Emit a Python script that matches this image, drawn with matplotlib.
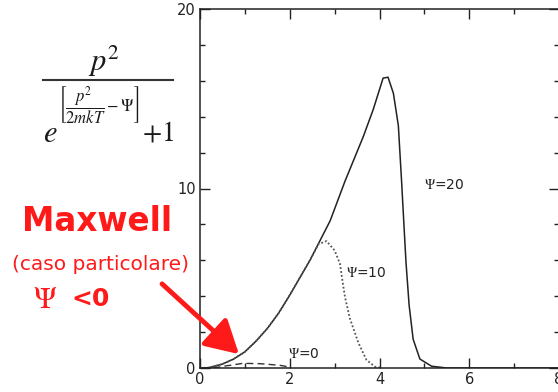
import numpy as np
import matplotlib
matplotlib.use('Agg')
import matplotlib.pyplot as plt
from matplotlib.ticker import MultipleLocator
from matplotlib.lines import Line2D
from matplotlib.patches import FancyArrowPatch

plt.rcParams['mathtext.fontset'] = 'stix'

# curve values (x = p, y = distribution)
psi20_x = [0, 0.2, 0.5, 0.75, 1.0, 1.25, 1.5, 1.75, 2.0, 2.45, 2.9, 3.23, 3.64, 3.86, 4.08, 4.19, 4.31, 4.42, 4.49, 4.53, 4.59, 4.66, 4.75, 4.9, 5.16, 5.5, 8.0]
psi20_y = [0, 0.02, 0.22, 0.5, 0.9, 1.5, 2.2, 3.05, 4.06, 6.0, 8.2, 10.4, 12.9, 14.4, 16.15, 16.2, 15.3, 13.5, 10.5, 8.65, 5.9, 3.5, 1.6, 0.5, 0.1, 0.0, 0.0]

psi10_x = [0, 0.2, 0.5, 0.75, 1.0, 1.25, 1.5, 1.75, 2.0, 2.45, 2.64, 2.82, 3.0, 3.12, 3.16, 3.23, 3.34, 3.53, 3.71, 3.9, 4.05]
psi10_y = [0, 0.02, 0.22, 0.5, 0.9, 1.5, 2.2, 3.05, 4.06, 6.0, 6.9, 7.07, 6.55, 5.8, 5.1, 3.96, 2.76, 1.4, 0.45, 0.07, 0.0]

psi0_x = [0.3, 0.56, 0.96, 1.34, 1.78, 2.0]
psi0_y = [0.0, 0.11, 0.26, 0.24, 0.15, 0.05]

curve_labels = [r'$\Psi$=20', r'$\Psi$=10', r'$\Psi$=0']
label_pos = [(5.0, 10.2), (3.25, 5.3), (1.95, 0.8)]

fig = plt.figure(figsize=(5.58, 3.92), dpi=100)
ax = fig.add_axes([200/558, 24/392, 359/558, 359/392])

ax.plot(psi20_x, psi20_y, color='#222222', lw=1.1)
ax.plot(psi10_x, psi10_y, color='#555555', lw=1.3, linestyle=(0, (1, 1.2)))
ax.plot(psi0_x, psi0_y, color='#333333', lw=1.0, linestyle=(0, (5, 3)))

for lab, (x, y) in zip(curve_labels, label_pos):
    ax.text(x, y, lab, fontsize=10, color='#222222', ha='left', va='center')

ax.set_xlim(0, 8)
ax.set_ylim(0, 20)
ax.xaxis.set_major_locator(MultipleLocator(2))
ax.xaxis.set_minor_locator(MultipleLocator(1))
ax.yaxis.set_major_locator(MultipleLocator(10))
ax.yaxis.set_minor_locator(MultipleLocator(2))
ax.tick_params(which='both', direction='in', top=True, right=True, labelsize=10.5,
               color='#222222', labelcolor='#222222', pad=3, width=1)
ax.tick_params(which='major', length=7)
ax.tick_params(which='minor', length=3.5)
for s in ax.spines.values():
    s.set_linewidth(1.1)
    s.set_color('#222222')

# formula, built from pieces
ink = '#1a1a1a'
fig.text(104/558, 1 - 61/392, r'$p^2$', fontsize=22, color=ink, ha='center', va='center')
fig.add_artist(Line2D([43/558, 173/558], [1 - 80/392] * 2, lw=1.5, color='#333333'))
fig.text(43/558, 1 - 133/392, r'$e$', fontsize=22, color=ink, ha='left', va='center')
fig.text(99/558, 1 - 106/392, r'$\left[\dfrac{p^2}{2mkT}-\Psi\right]$',
         fontsize=12, color=ink, ha='center', va='center')
fig.text(142/558, 1 - 133/392, r'$+1$', fontsize=20, color=ink, ha='left', va='center')

# red annotation
red = '#ff1a1a'
fig.text(97/558, 1 - 221/392, 'Maxwell', fontsize=23.5, fontweight='bold',
         color=red, ha='center', va='center')
fig.text(100/558, 1 - 264/392, '(caso particolare)', fontsize=14.5,
         color=red, ha='center', va='center')
fig.text(33/558, 1 - 299/392, r'$\Psi$', fontsize=22, color=red, ha='left', va='center')
fig.text(71/558, 1 - 299/392, '<0', fontsize=18, fontweight='bold', color=red,
         ha='left', va='center')
fig.patches.append(FancyArrowPatch(
    (160/558, 1 - 282/392), (241/558, 1 - 356/392), transform=fig.transFigure,
    arrowstyle='-|>,head_length=8,head_width=4.5', mutation_scale=2.5,
    color=red, lw=3.5))

fig.savefig('out.png', dpi=100)
